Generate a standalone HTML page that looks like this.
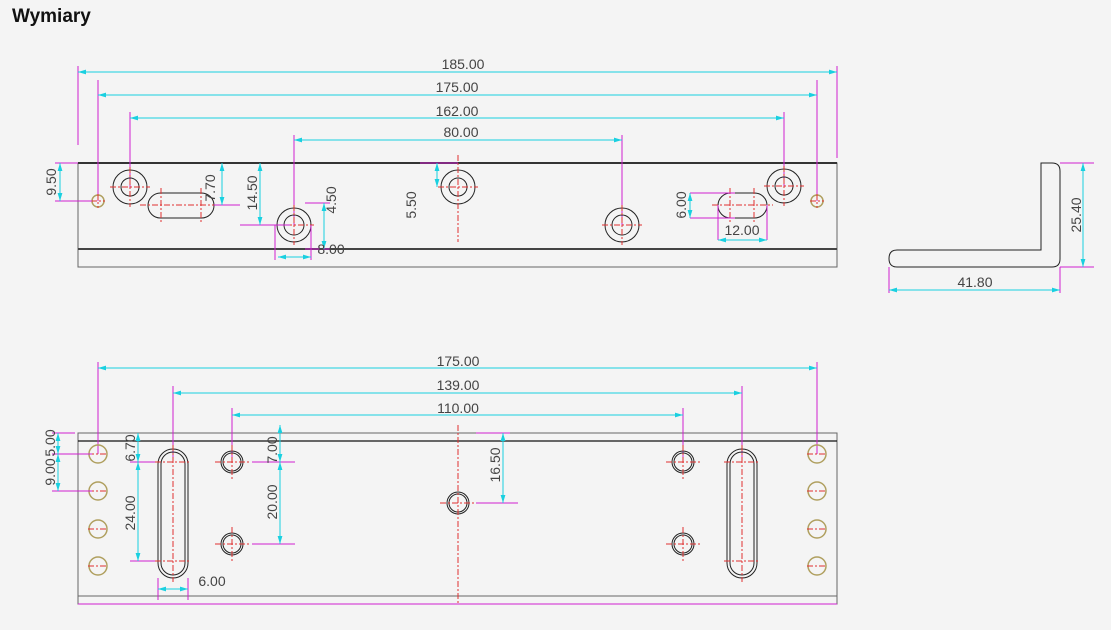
<!DOCTYPE html>
<html><head><meta charset="utf-8"><style>
body{margin:0;background:#f4f4f4;width:1111px;height:630px;overflow:hidden;font-family:"Liberation Sans",sans-serif}
h1{position:absolute;left:12px;top:6px;margin:0;font-size:19px;font-weight:bold;color:#111}
svg{position:absolute;left:0;top:0}
.t{font-family:"Liberation Sans",sans-serif;font-size:14px;fill:#444}
.m{stroke:#d020d0;stroke-width:1;fill:none}
.c{stroke:#19d0e0;stroke-width:1;fill:none}
.r{stroke:#e03030;stroke-width:1;stroke-dasharray:6 2 2 2;fill:none}
.k{stroke:#222;stroke-width:1;fill:none}
.g{stroke:#666;stroke-width:1;fill:none}
.o{stroke:#b0a060;stroke-width:1.5;fill:none}
</style></head><body>
<h1>Wymiary</h1>
<svg width="1111" height="630" viewBox="0 0 1111 630">
<defs>
<marker id="a" viewBox="0 0 10 6" refX="10" refY="3" markerWidth="8" markerHeight="5" orient="auto-start-reverse"><path d="M0,0L10,3L0,6z" fill="#19d0e0"/></marker>
</defs>
<!-- TOP VIEW -->
<rect x="78" y="163" width="759" height="104" class="g"/>
<line x1="78" y1="163" x2="837" y2="163" stroke="#333" stroke-width="2"/>
<line x1="78" y1="249" x2="837" y2="249" stroke="#444" stroke-width="2"/>
<!-- extension lines -->
<path class="m" d="M78,66V145M837,66V158M98,80V201M817,80V201M130,112V187M784,112V187M294,135V225M622,135V225"/>
<g class="c" marker-start="url(#a)" marker-end="url(#a)">
<line x1="78" y1="72" x2="837" y2="72"/><line x1="98" y1="95" x2="817" y2="95"/>
<line x1="130" y1="118" x2="784" y2="118"/><line x1="294" y1="140" x2="622" y2="140"/>
</g>
<text class="t" x="463" y="69" text-anchor="middle">185.00</text>
<text class="t" x="457" y="92" text-anchor="middle">175.00</text>
<text class="t" x="457" y="116" text-anchor="middle">162.00</text>
<text class="t" x="461" y="137" text-anchor="middle">80.00</text>
<!-- holes -->
<g class="k">
<circle cx="130" cy="187" r="17"/><circle cx="130" cy="187" r="9"/>
<circle cx="784" cy="186" r="17"/><circle cx="784" cy="186" r="9"/>
<circle cx="458" cy="187" r="17"/><circle cx="458" cy="187" r="9"/>
<circle cx="294" cy="225" r="17"/><circle cx="294" cy="225" r="10"/>
<circle cx="622" cy="225" r="17"/><circle cx="622" cy="225" r="10"/>
<rect x="148" y="193" width="66" height="25" rx="12.5"/>
<rect x="718" y="193" width="49" height="25" rx="12.5"/>
</g>
<circle cx="98" cy="201" r="6" class="o"/><circle cx="817" cy="201" r="6" class="o"/>
<g class="r">
<path d="M110,187H150M130,167V207M764,186H804M784,166V206M438,187H478M458,155V242M274,225H314M294,205V245M602,225H642M622,205V245"/>
<path d="M140,205H222M161,188V222M201,188V222M712,205H773M730,188V222M754,188V222"/>
<path d="M91,201H105M98,194V208M810,201H824M817,194V208"/>
</g>
<!-- small dims top -->
<path class="m" d="M55,163H78M55,201H92M214,205H240M275,225V260M311,225V260M305,203H330M305,249H330M420,163H458M718,205V240M767,205V240M690,193H735M690,218H735"/>
<path class="m" d="M240,225H290"/>
<g class="c" marker-start="url(#a)" marker-end="url(#a)">
<line x1="60" y1="163" x2="60" y2="201"/><line x1="222" y1="163" x2="222" y2="205"/>
<line x1="260" y1="163" x2="260" y2="225"/><line x1="324" y1="203" x2="324" y2="249"/>
<line x1="437" y1="163" x2="437" y2="187"/><line x1="278" y1="257" x2="311" y2="257"/>
<line x1="690" y1="193" x2="690" y2="218"/><line x1="718" y1="240" x2="767" y2="240"/>
</g>
<g class="t">
<text transform="translate(56,182) rotate(-90)" text-anchor="middle">9.50</text>
<text transform="translate(215,188) rotate(-90)" text-anchor="middle">7.70</text>
<text transform="translate(257,193) rotate(-90)" text-anchor="middle">14.50</text>
<text transform="translate(336,200) rotate(-90)" text-anchor="middle">4.50</text>
<text transform="translate(416,205) rotate(-90)" text-anchor="middle">5.50</text>
<text transform="translate(686,205) rotate(-90)" text-anchor="middle">6.00</text>
<text x="331" y="254" text-anchor="middle">8.00</text>
<text x="742" y="235" text-anchor="middle">12.00</text>
</g>
<!-- profile -->
<path class="k" d="M1041,163H1052Q1060,163 1060,171V259Q1060,267 1052,267H897Q889,267 889,258.5Q889,250 897,250H1041Z" stroke-width="1.3"/>
<path class="m" d="M1060,163H1094M1060,267H1094M889,267V293M1060,267V293"/>
<g class="c" marker-start="url(#a)" marker-end="url(#a)">
<line x1="1083" y1="163" x2="1083" y2="267"/><line x1="889" y1="290" x2="1060" y2="290"/>
</g>
<text class="t" transform="translate(1081,215) rotate(-90)" text-anchor="middle">25.40</text>
<text class="t" x="975" y="287" text-anchor="middle">41.80</text>
<!-- BOTTOM VIEW -->
<rect x="78" y="433" width="759" height="171" class="g"/>
<line x1="78" y1="441" x2="837" y2="441" stroke="#111" stroke-width="1.3"/>
<line x1="78" y1="596" x2="837" y2="596" stroke="#666"/>
<line x1="78" y1="604" x2="837" y2="604" stroke="#d020d0"/>
<path class="m" d="M98,362V454M817,362V454M173,386V462M742,386V462M232,408V462M683,408V462"/>
<g class="c" marker-start="url(#a)" marker-end="url(#a)">
<line x1="98" y1="368" x2="817" y2="368"/><line x1="173" y1="393" x2="742" y2="393"/>
<line x1="232" y1="415" x2="683" y2="415"/>
</g>
<text class="t" x="458" y="366" text-anchor="middle">175.00</text>
<text class="t" x="458" y="390" text-anchor="middle">139.00</text>
<text class="t" x="458" y="413" text-anchor="middle">110.00</text>
<g class="k">
<rect x="158" y="449" width="30" height="129" rx="15"/><rect x="161" y="452" width="24" height="123" rx="12"/>
<rect x="727" y="449" width="30" height="129" rx="15"/><rect x="730" y="452" width="24" height="123" rx="12"/>
<circle cx="232" cy="462" r="11"/><circle cx="232" cy="462" r="9"/>
<circle cx="232" cy="544" r="11"/><circle cx="232" cy="544" r="9"/>
<circle cx="683" cy="462" r="11"/><circle cx="683" cy="462" r="9"/>
<circle cx="683" cy="544" r="11"/><circle cx="683" cy="544" r="9"/>
<circle cx="458" cy="503" r="11"/><circle cx="458" cy="503" r="9"/>
</g>
<g class="o">
<circle cx="98" cy="454" r="9"/><circle cx="98" cy="491" r="9"/><circle cx="98" cy="529" r="9"/><circle cx="98" cy="566" r="9"/>
<circle cx="817" cy="454" r="9"/><circle cx="817" cy="491" r="9"/><circle cx="817" cy="529" r="9"/><circle cx="817" cy="566" r="9"/>
</g>
<g class="r">
<path d="M458,425V604M440,503H476M173,445V582M742,445V582M155,462H191M155,561H191M724,462H760M724,561H760"/>
<path d="M215,462H249M232,445V479M215,544H249M232,527V561M666,462H700M683,445V479M666,544H700M683,527V561"/>
<path d="M88,454H108M88,491H108M88,529H108M88,566H108M807,454H827M807,491H827M807,529H827M807,566H827"/>
</g>
<path class="m" d="M52,433H75M52,454H92M52,491H92M130,462H155M130,561H155M158,578V600M188,578V600M252,462H295M252,544H295M476,433H510M476,503H518"/>
<g class="c" marker-start="url(#a)" marker-end="url(#a)">
<line x1="58" y1="433" x2="58" y2="454"/><line x1="58" y1="454" x2="58" y2="491"/>
<line x1="138" y1="433" x2="138" y2="462"/><line x1="138" y1="462" x2="138" y2="561"/>
<line x1="280" y1="425" x2="280" y2="462"/><line x1="280" y1="462" x2="280" y2="544"/>
<line x1="503" y1="433" x2="503" y2="503"/><line x1="158" y1="589" x2="188" y2="589"/>
</g>
<g class="t">
<text transform="translate(55,443) rotate(-90)" text-anchor="middle">5.00</text>
<text transform="translate(55,472) rotate(-90)" text-anchor="middle">9.00</text>
<text transform="translate(135,448) rotate(-90)" text-anchor="middle">6.70</text>
<text transform="translate(135,513) rotate(-90)" text-anchor="middle">24.00</text>
<text transform="translate(277,450) rotate(-90)" text-anchor="middle">7.00</text>
<text transform="translate(277,502) rotate(-90)" text-anchor="middle">20.00</text>
<text transform="translate(500,465) rotate(-90)" text-anchor="middle">16.50</text>
<text x="212" y="586" text-anchor="middle">6.00</text>
</g>
</svg>
</body></html>
